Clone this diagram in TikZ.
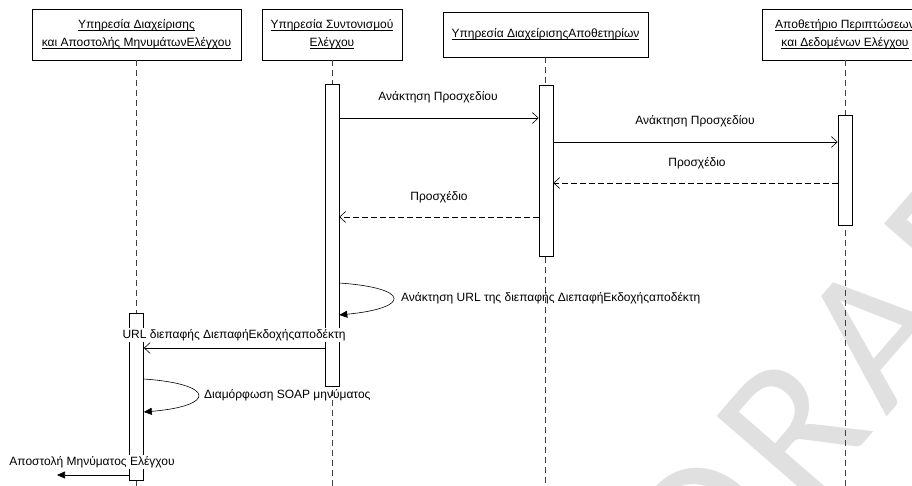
\documentclass[tikz,border=0pt]{standalone}
\usepackage{fontspec}
\setmainfont{Liberation Sans}
\newfontfamily\wmfont[LetterSpace=8]{Carlito}
\usetikzlibrary{arrows.meta}

% underline that sits just under the text
\newcommand\ulx[1]{\setbox0\hbox{#1}\rlap{\rule[-2pt]{\wd0}{0.5pt}}\box0}
\newcommand\lbl{\fontsize{12}{18}\selectfont}

\tikzset{
  head/.style={draw, line width=0.6pt, fill=white, align=center, font=\lbl, inner sep=0pt},
  life/.style={draw=black!75, line width=0.5pt, dash pattern=on 6pt off 4pt},
  bar/.style={draw, fill=white, line width=0.6pt, minimum width=14pt, inner sep=0pt, anchor=north},
  msg/.style={line width=0.6pt, -{Straight Barb[length=6pt,width=11pt,line width=0.6pt]}},
  ret/.style={msg, dash pattern=on 6pt off 3pt},
  selfmsg/.style={line width=0.6pt, -{Triangle[length=8pt,width=7pt]}},
  lab/.style={font=\lbl, inner sep=1pt},
  wm/.style={font=\wmfont\fontsize{200}{200}\selectfont, text=black!12, inner sep=0pt}
}

\begin{document}
\begin{tikzpicture}[x=1pt,y=-1pt]
\clip (0,0) rectangle (912,486);
\fill[white] (0,0) rectangle (912,486);

% faint background watermark
\node[wm, rotate=49] (mark) at (862,348) {DRAFT};

% participants
\node[head, minimum width=209pt, minimum height=51pt] (h1) at (136.5,34.5)
  {\ulx{Υπηρεσία Διαχείρισης}\\ \ulx{και Αποστολής ΜηνυμάτωνΕλέγχου}};
\node[head, minimum width=140pt, minimum height=51pt] (h2) at (332,34.5)
  {\ulx{Υπηρεσία Συντονισμού}\\ \ulx{Ελέγχου}};
\node[head, minimum width=205pt, minimum height=45pt] (h3) at (545.5,34.5)
  {\ulx{Υπηρεσία ΔιαχείρισηςΑποθετηρίων}};
\node[head, minimum width=166pt, minimum height=51pt] (h4) at (845,34.5)
  {\ulx{Αποθετήριο Περιπτώσεων}\\ \ulx{και Δεδομένων Ελέγχου}};

\coordinate (bottom) at (0,486);

% lifelines
\foreach \h in {h1,h2,h3,h4}
  \draw[life] (\h.south) -- (\h.south |- bottom);

% activation bars
\node[bar, minimum height=167pt] (b1) at (136.5,313) {};
\node[bar, minimum height=302pt] (b2) at (332,84) {};
\node[bar, minimum height=171pt] (b3) at (546,85) {};
\node[bar, minimum height=110pt] (b4) at (845,115) {};

% message levels
\coordinate (y1) at (0,118);
\coordinate (y2) at (0,142);
\coordinate (y3) at (0,183);
\coordinate (y4) at (0,217);
\coordinate (y5a) at (0,283);
\coordinate (y5b) at (0,315);
\coordinate (y6) at (0,348);
\coordinate (y7a) at (0,379);
\coordinate (y7b) at (0,412);
\coordinate (y8) at (0,475);
\coordinate (out) at (57,475);

% messages
\draw[msg] (b2.east |- y1) -- (b3.west |- y1);
\node[lab] (l1) at (438,97) {Ανάκτηση Προσχεδίου};

\draw[msg] (b3.east |- y2) -- (b4.west |- y2);
\node[lab] (l2) at (695,121) {Ανάκτηση Προσχεδίου};

\draw[ret] (b4.west |- y3) -- (b3.east |- y3);
\node[lab] (l3) at (697,163) {Προσχέδιο};

\draw[ret] (b3.west |- y4) -- (b2.east |- y4);
\node[lab] (l4) at (439,197) {Προσχέδιο};

\draw[selfmsg] (b2.east |- y5a) .. controls (411,288) and (411,308) .. (b2.east |- y5b);
\node[lab, anchor=west] (l5) at (400,298) {Ανάκτηση URL της διεπαφής ΔιεπαφήΕκδοχήςαποδέκτη};

\draw[msg] (b2.west |- y6) -- (b1.east |- y6);
\node[lab, fill=white] (l6) at (234,335) {URL διεπαφής ΔιεπαφήΕκδοχήςαποδέκτη};

\draw[selfmsg] (b1.east |- y7a) .. controls (216,384) and (216,406) .. (b1.east |- y7b);
\node[lab, anchor=west] (l7) at (203,395) {Διαμόρφωση SOAP μηνύματος};

\draw[selfmsg] (b1.west |- y8) -- (out);
\node[lab, fill=white] (l8) at (92,462) {Αποστολή Μηνύματος Ελέγχου};
\end{tikzpicture}
\end{document}
